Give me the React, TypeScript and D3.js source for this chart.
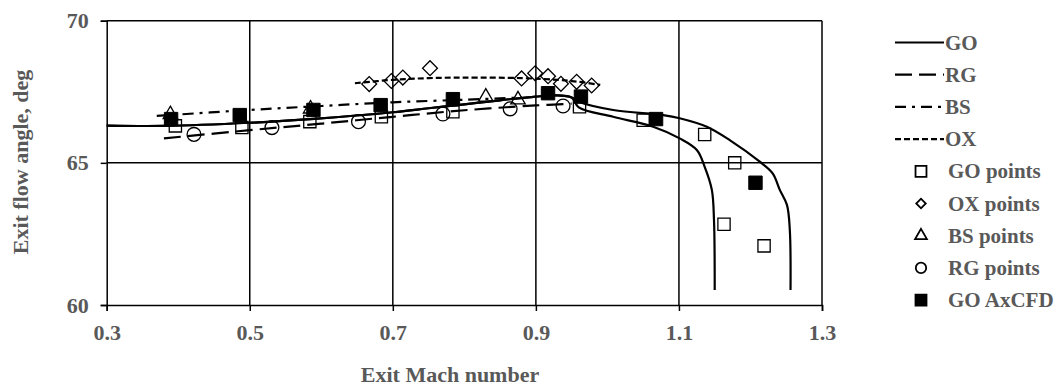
import React, { useEffect, useRef } from "react";
import * as d3 from "d3";

// axis ticks
const xTicks = [0.3, 0.5, 0.7, 0.9, 1.1, 1.3];
const yTicks = [60, 65, 70];

// GO curve: common part, then the two branches
const goCommon = [[0.3, 66.31], [0.38, 66.3], [0.5, 66.41], [0.59, 66.55], [0.7, 66.78], [0.75, 66.92], [0.8, 67.06], [0.85, 67.2], [0.9, 67.33], [0.93, 67.37], [0.95, 67.3]];
const goUpper = [[0.96, 67.15], [1.008, 66.86], [1.078, 66.68], [1.101, 66.57], [1.139, 66.27], [1.171, 65.8], [1.213, 65.04], [1.231, 64.63], [1.241, 64.05], [1.251, 63.52], [1.255, 62.64], [1.256, 60.53]];
const goLower = [[0.96, 66.95], [1.008, 66.62], [1.064, 66.27], [1.101, 65.86], [1.125, 65.45], [1.136, 64.86], [1.146, 64.05], [1.149, 62.99], [1.15, 60.53]];

const rgLine = [[0.38, 65.86], [0.5, 66.15], [0.6, 66.38], [0.7, 66.62], [0.8, 66.85], [0.9, 67.02], [0.95, 67.08]];
const bsLine = [[0.37, 66.65], [0.5, 66.86], [0.6, 67.0], [0.7, 67.13], [0.8, 67.22], [0.88, 67.3]];
const oxLine = [[0.647, 67.8], [0.7, 67.92], [0.75, 67.98], [0.8, 68.0], [0.88, 67.98], [0.93, 67.92], [0.96, 67.85], [0.99, 67.74]];

const goPoints = [[0.396, 66.3], [0.489, 66.24], [0.584, 66.45], [0.684, 66.62], [0.784, 66.8], [0.961, 66.97], [1.05, 66.5], [1.136, 66.0], [1.178, 65.0], [1.163, 62.84], [1.219, 62.08]];
const oxPoints = [[0.667, 67.77], [0.698, 67.88], [0.714, 68.0], [0.752, 68.33], [0.88, 67.97], [0.899, 68.15], [0.917, 68.05], [0.935, 67.78], [0.957, 67.85], [0.978, 67.72]];
const bsPoints = [[0.389, 66.7], [0.585, 66.9], [0.83, 67.32], [0.875, 67.22]];
const rgPoints = [[0.422, 66.0], [0.531, 66.24], [0.652, 66.45], [0.77, 66.72], [0.864, 66.9], [0.938, 67.0]];
const axcfdPoints = [[0.39, 66.54], [0.486, 66.68], [0.589, 66.86], [0.683, 67.03], [0.784, 67.24], [0.917, 67.45], [0.963, 67.33], [1.068, 66.54], [1.207, 64.3]];

const lineSeries = [
  { name: "GO", dash: null },
  { name: "RG", dash: "17,7" },
  { name: "BS", dash: "11,6,3,6" },
  { name: "OX", dash: "6,3" },
];
const pointSeries = ["GO points", "OX points", "BS points", "RG points", "GO AxCFD"];

const W = 1060;
const H = 389;
const textColor = "#595959";
const font = "'Liberation Serif', 'Times New Roman', serif";

function markerPath(kind, size) {
  if (kind === "circle") return d3.symbol(d3.symbolCircle, size)();
  if (kind === "triangle") return d3.symbol(d3.symbolTriangle, size)();
  return d3.symbol(d3.symbolSquare, size)();
}

export default function App() {
  const ref = useRef(null);

  useEffect(() => {
    const svg = d3.select(ref.current);
    svg.selectAll("*").remove();

    const x = d3.scaleLinear().domain([0.3, 1.3]).range([106.7, 822]);
    const y = d3.scaleLinear().domain([60, 70]).range([305, 20.7]);

    // grid
    const grid = svg.append("g").attr("stroke", "#000").attr("stroke-width", 1.5);
    xTicks.slice(1).forEach(t => {
      grid.append("line").attr("x1", x(t)).attr("x2", x(t)).attr("y1", y(70)).attr("y2", y(60));
    });
    yTicks.slice(1).forEach(t => {
      grid.append("line").attr("x1", x(0.3)).attr("x2", x(1.3)).attr("y1", y(t)).attr("y2", y(t));
    });

    // axes
    const xAxis = svg.append("g")
      .attr("transform", `translate(0,${y(60)})`)
      .call(d3.axisBottom(x).tickValues(xTicks).tickSize(6).tickPadding(13).tickFormat(d3.format(".1f")));
    const yAxis = svg.append("g")
      .attr("transform", `translate(${x(0.3)},0)`)
      .call(d3.axisLeft(y).tickValues(yTicks).tickSize(6).tickPadding(12).tickFormat(d3.format("d")));
    [xAxis, yAxis].forEach(a => {
      a.select(".domain").attr("stroke", "#000").attr("stroke-width", 1.5);
      a.selectAll(".tick line").attr("stroke", "#000").attr("stroke-width", 1.5);
      a.selectAll(".tick text")
        .attr("fill", textColor)
        .style("font-family", font)
        .style("font-size", "22px")
        .style("font-weight", "bold");
    });

    svg.append("text")
      .attr("x", 450).attr("y", 382)
      .attr("text-anchor", "middle")
      .attr("fill", textColor)
      .style("font-family", font).style("font-size", "22px").style("font-weight", "bold")
      .text("Exit Mach number");
    svg.append("text")
      .attr("transform", `translate(28,${162}) rotate(-90)`)
      .attr("text-anchor", "middle")
      .attr("fill", textColor)
      .style("font-family", font).style("font-size", "22px").style("font-weight", "bold")
      .text("Exit flow angle, deg");

    const line = d3.line().x(d => x(d[0])).y(d => y(d[1])).curve(d3.curveCatmullRom.alpha(0.5));
    const curves = [
      { data: goCommon.concat(goUpper), dash: null },
      { data: goCommon.concat(goLower), dash: null },
      { data: rgLine, dash: "17,7" },
      { data: bsLine, dash: "11,6,3,6" },
      { data: oxLine, dash: "6,3" },
    ];
    curves.forEach(c => {
      svg.append("path")
        .attr("d", line(c.data))
        .attr("fill", "none")
        .attr("stroke", "#000")
        .attr("stroke-width", 2.2)
        .attr("stroke-dasharray", c.dash);
    });

    const drawPoints = (data, kind, size, filled, rotate) => {
      svg.append("g").selectAll("path")
        .data(data)
        .enter()
        .append("path")
        .attr("d", markerPath(kind, size))
        .attr("transform", d => `translate(${x(d[0])},${y(d[1])})${rotate ? " rotate(45)" : ""}`)
        .attr("fill", filled ? "#000" : "none")
        .attr("stroke", "#000")
        .attr("stroke-width", filled ? 1 : 1.3);
    };
    drawPoints(goPoints, "square", 150, false, false);
    drawPoints(oxPoints, "square", 110, false, true);
    drawPoints(bsPoints, "triangle", 90, false, false);
    drawPoints(rgPoints, "circle", 150, false, false);
    drawPoints(axcfdPoints, "square", 180, true, false);

    // legend
    const lg = svg.append("g");
    const rowY = i => 42.5 + i * 32.2;
    lineSeries.forEach((s, i) => {
      lg.append("line")
        .attr("x1", 895).attr("x2", 944).attr("y1", rowY(i)).attr("y2", rowY(i))
        .attr("stroke", "#000").attr("stroke-width", 2.2)
        .attr("stroke-dasharray", s.dash);
      lg.append("text")
        .attr("x", 945).attr("y", rowY(i) + 7)
        .attr("fill", textColor)
        .style("font-family", font).style("font-size", "21px").style("font-weight", "bold")
        .text(s.name);
    });
    const legendMarks = [
      { kind: "square", size: 120, filled: false, rotate: false },
      { kind: "square", size: 45, filled: false, rotate: true },
      { kind: "triangle", size: 60, filled: false, rotate: false },
      { kind: "circle", size: 85, filled: false, rotate: false },
      { kind: "square", size: 121, filled: true, rotate: false },
    ];
    pointSeries.forEach((name, j) => {
      const i = j + lineSeries.length;
      const m = legendMarks[j];
      lg.append("path")
        .attr("d", markerPath(m.kind, m.size))
        .attr("transform", `translate(921,${rowY(i)})${m.rotate ? " rotate(45)" : ""}`)
        .attr("fill", m.filled ? "#000" : "none")
        .attr("stroke", "#000")
        .attr("stroke-width", 1.8);
      lg.append("text")
        .attr("x", 948).attr("y", rowY(i) + 7)
        .attr("fill", textColor)
        .style("font-family", font).style("font-size", "21px").style("font-weight", "bold")
        .text(name);
    });
  }, []);

  return (
    <svg ref={ref} width={W} height={H} style={{ position: "absolute", left: 0, top: 0, background: "#fff" }} />
  );
}
